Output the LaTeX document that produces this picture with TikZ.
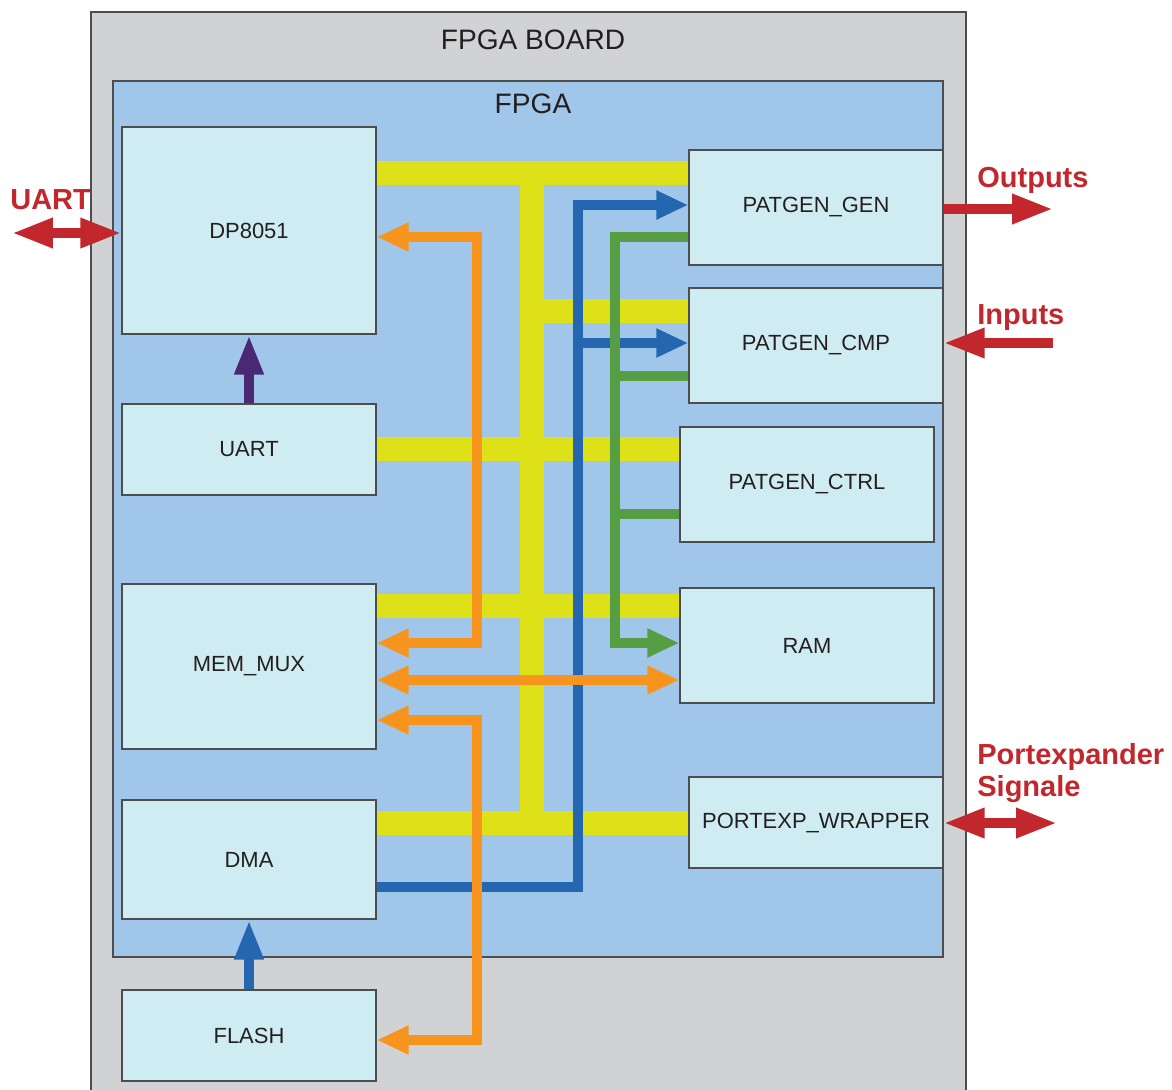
\documentclass[tikz,border=0pt]{standalone}
\usepackage{fontspec}
\setmainfont{Liberation Sans}
\usepackage{tikz}
\usetikzlibrary{arrows.meta}
\usepackage{xcolor}
\definecolor{boardgray}{HTML}{D1D2D4}
\definecolor{fpgablue}{HTML}{A0C7EA}
\definecolor{blkcyan}{HTML}{D0ECF3}
\definecolor{edgegray}{HTML}{4D4D4D}
\definecolor{txtdark}{HTML}{231F20}
\definecolor{busyellow}{HTML}{DFE118}
\definecolor{sigorange}{HTML}{F7941E}
\definecolor{sigblue}{HTML}{2566B0}
\definecolor{siggreen}{HTML}{559E44}
\definecolor{sigpurple}{HTML}{4B2873}
\definecolor{pinred}{HTML}{C1272D}

\begin{document}
\begin{tikzpicture}[
    x=0.02cm, y=-0.02cm,
    fat/.tip={Triangle[length=0.64cm, width=0.54cm]},
    up/.tip={Triangle[length=0.8cm, width=0.54cm]},
    pin/.tip={Triangle[length=0.82cm, width=0.56cm]},
    blk/.style={draw=edgegray, fill=blkcyan, line width=0.8pt, minimum width=5.08cm,
                text=txtdark, font=\fontsize{12.5}{15}\selectfont, inner sep=0pt},
    ttl/.style={text=txtdark, font=\fontsize{16}{19}\selectfont},
    bus/.style={draw=busyellow, line width=0.48cm},
    arr/.style={line width=0.2cm},
    pinarr/.style={draw=pinred, line width=0.19cm},
    lbl/.style={text=pinred, font=\bfseries\fontsize{16.5}{19}\selectfont, anchor=west, inner sep=0pt}
  ]
  \useasboundingbox (0,0) rectangle (1172,1089);

  % Board and chip
  \node[draw=edgegray, fill=boardgray, line width=0.8pt, minimum width=17.5cm,
        minimum height=21.76cm, inner sep=0pt] (board) at (528.5,556) {};
  \node[ttl] (boardtitle) at (533,40) {FPGA BOARD};
  \node[draw=edgegray, fill=fpgablue, line width=0.8pt, minimum width=16.6cm,
        minimum height=17.52cm, inner sep=0pt] (fpga) at (528,519) {};
  \node[ttl] (fpgatitle) at (533,104) {FPGA};

  % Left column
  \node[blk, minimum height=4.14cm] (dp) at (249,230.5) {DP8051};
  \node[blk, minimum height=1.82cm] (uart) at (249,449.5) {UART};
  \node[blk, minimum height=3.3cm] (mem) at (249,666.5) {MEM\_MUX};
  \node[blk, minimum height=2.38cm] (dma) at (249,859.5) {DMA};
  \node[blk, minimum height=1.82cm] (flash) at (249,1035.5) {FLASH};

  % Right column
  \node[blk, minimum height=2.3cm] (gen) at (816,207.5) {PATGEN\_GEN};
  \node[blk, minimum height=2.3cm] (cmp) at (816,345.5) {PATGEN\_CMP};
  \node[blk, minimum height=2.3cm] (ctrl) at (807,484.5) {PATGEN\_CTRL};
  \node[blk, minimum height=2.3cm] (ram) at (807,645.5) {RAM};
  \node[blk, minimum height=1.82cm] (px) at (816,822.5) {PORTEXP\_WRAPPER};

  % Yellow bus
  \coordinate (ytop) at (532,173);
  \coordinate (ybot) at (532,823);
  \draw[bus] (ytop) -- (ybot);
  \draw[bus] (dp.east |- ytop) -- (gen.west |- ytop);
  \draw[bus] (ytop |- 0,311) -- (cmp.west |- 0,311);
  \draw[bus] (uart.east |- 0,449) -- (ctrl.west |- 0,449);
  \draw[bus] (mem.east |- 0,606) -- (ram.west |- 0,606);
  \draw[bus] (dma.east |- ybot) -- (px.west |- ybot);

  % DMA to pattern generators
  \draw[arr, sigblue, -fat] (dma.east |- 0,887) -| (578,205) -- (gen.west |- 0,205);
  \draw[arr, sigblue, -fat] (578,343) -- (cmp.west |- 0,343);

  % Pattern generators to RAM
  \draw[arr, siggreen, -fat] (gen.west |- 0,237) -| (615,643) -- (ram.west |- 0,643);
  \draw[arr, siggreen] (cmp.west |- 0,376) -- (615,376);
  \draw[arr, siggreen] (ctrl.west |- 0,514) -- (615,514);

  % Memory paths
  \draw[arr, sigorange, fat-fat] (dp.east |- 0,237) -| (477,643) -- (mem.east |- 0,643);
  \draw[arr, sigorange, fat-fat] (mem.east |- 0,680) -- (ram.west |- 0,680);
  \draw[arr, sigorange, fat-fat] (mem.east |- 0,720) -| (477,1040) -- (flash.east |- 0,1040);

  % Vertical links
  \draw[arr, sigpurple, -up] (uart.north) -- (dp.south);
  \draw[arr, sigblue, -up] (flash.north) -- (dma.south);

  % External pins
  \coordinate (uartpin) at (12,233);
  \coordinate (outpin) at (1053,209);
  \coordinate (inpin) at (1053,343);
  \coordinate (pxpin) at (1057,823);
  \draw[pinarr, pin-pin] (uartpin) -- (dp.west |- uartpin);
  \draw[pinarr, -pin] (gen.east |- outpin) -- (outpin);
  \draw[pinarr, -pin] (inpin) -- (cmp.east |- inpin);
  \draw[pinarr, pin-pin] (px.east |- pxpin) -- (pxpin);
  \node[lbl] (uartlbl) at (10,200) {UART};
  \node[lbl] (outlbl) at (977,180) {Outputs};
  \node[lbl] (inlbl) at (977,318) {Inputs};
  \node[lbl, align=left, font=\bfseries\fontsize{16.5}{18.7}\selectfont] (pxlbl) at (977,773) {Portexpander\\Signale};
\end{tikzpicture}
\end{document}
